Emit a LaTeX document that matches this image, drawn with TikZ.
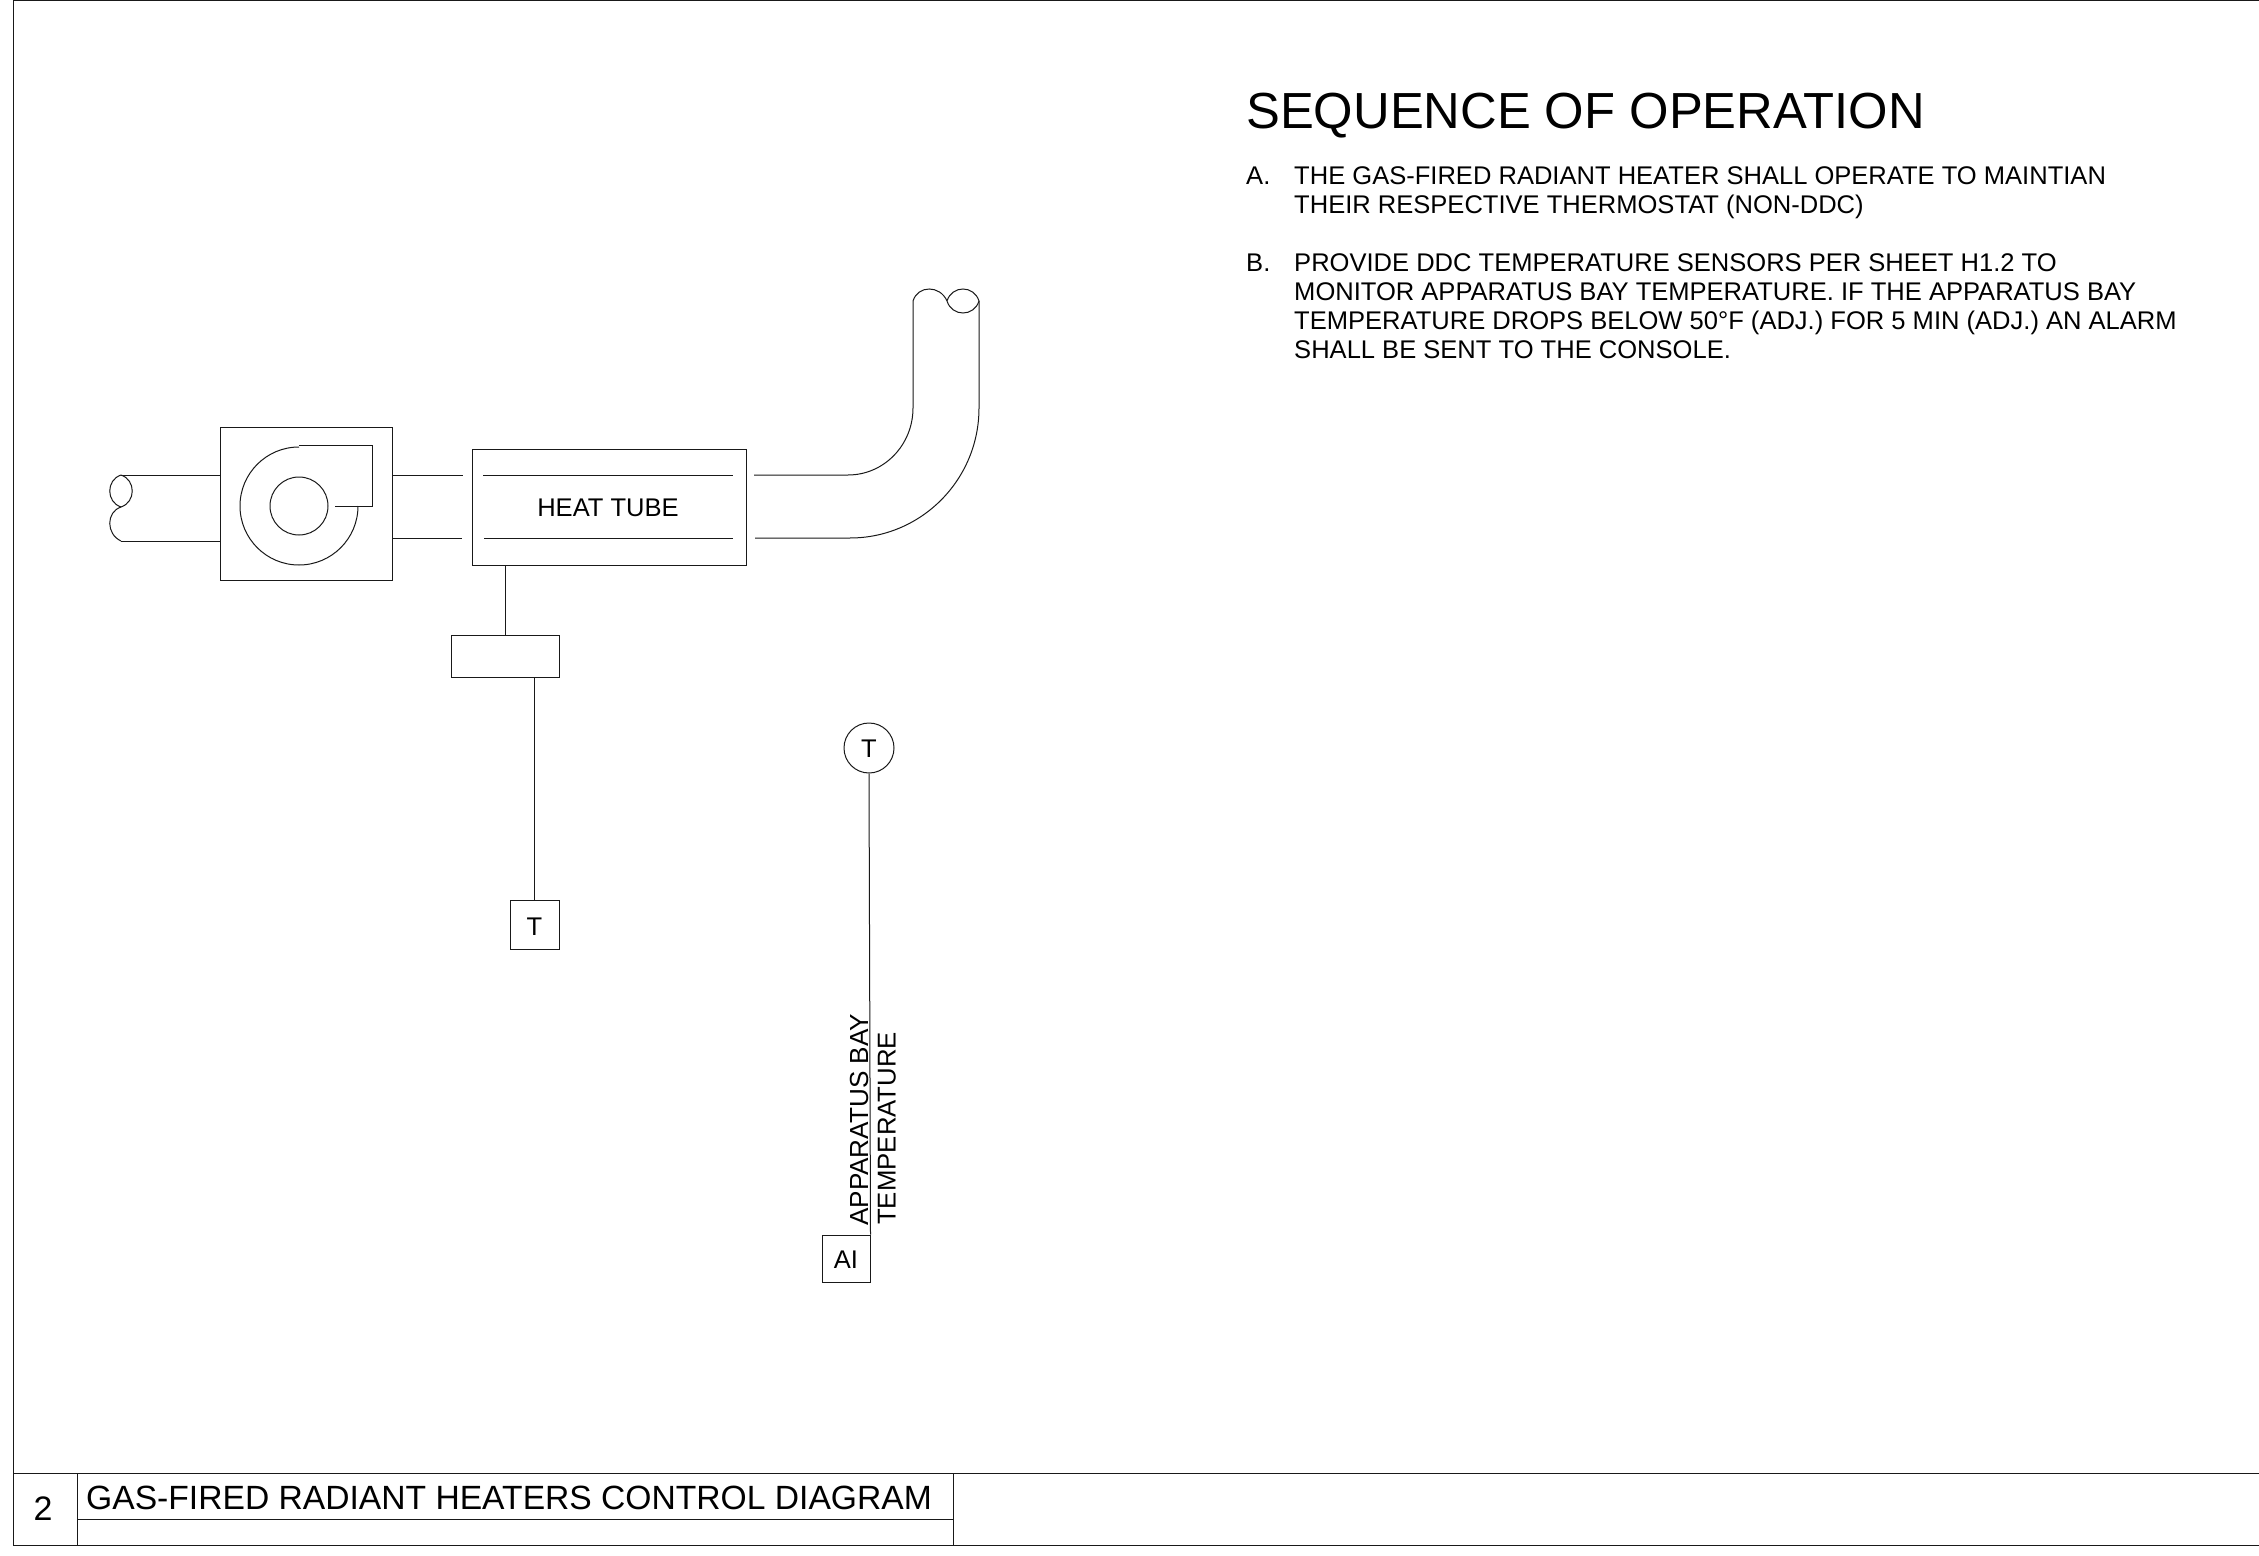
\documentclass[tikz,border=0pt]{standalone}
\usepackage{fontspec}
\setmainfont{Liberation Sans}
\tikzset{
  wire/.style={line width=0.3mm,black!90},
  unitbox/.style={draw,line width=0.3mm,black!90,text=black,inner sep=0pt},
  label/.style={font=\fontsize{21.8}{24.7}\selectfont,inner sep=0pt},
  note/.style={label,anchor=north west,align=left},
}
\begin{document}
\begin{tikzpicture}[x=0.3mm,y=-0.3mm]
\useasboundingbox(0,0)rectangle(2259,1556);
% sheet frame
\draw[wire](2259,1)--(13.5,1)--(13.5,1545)--(2259,1545);
\draw[wire](13.5,1473)--(2259,1473);
\draw[wire](77,1519)--(953,1519);
\draw[wire](77,1473)--(77,1545);
\draw[wire](953,1473)--(953,1545);
\node[label,font=\fontsize{29}{32}\selectfont](sheetno)at(43,1509){2};
\node[label,font=\fontsize{28.7}{32}\selectfont,anchor=west](sheettitle)at(86,1498){GAS-FIRED RADIANT HEATERS CONTROL DIAGRAM};
% notes
\node[label,font=\fontsize{43.3}{48}\selectfont,anchor=west](seqhead)at(1246,116){SEQUENCE OF OPERATION};
\node[note](notea)at(1246,166.5){A.};
\node[note,anchor=north west](notetxta)at(1294,166.5){THE GAS-FIRED RADIANT HEATER SHALL OPERATE TO MAINTIAN\\THEIR RESPECTIVE THERMOSTAT (NON-DDC)};
\node[note](noteb)at(1246,253.5){B.};
\node[note](notetxtb)at(1294,253.5){PROVIDE DDC TEMPERATURE SENSORS PER SHEET H1.2 TO\\MONITOR APPARATUS BAY TEMPERATURE. IF THE APPARATUS BAY\\TEMPERATURE DROPS BELOW 50°F (ADJ.) FOR 5 MIN (ADJ.) AN ALARM\\SHALL BE SENT TO THE CONSOLE.};
% fan and heat tube
\node[unitbox,minimum width=51.6mm,minimum height=45.9mm](fan)at(306,503.5){};
\node[unitbox,circle,minimum size=17.4mm](fanwheel)at(299,506){};
\node[unitbox,minimum width=82.2mm,minimum height=34.8mm](heattube)at(609,507){};
\node[label,anchor=center](heatlabel)at(608,508){HEAT TUBE};
\draw[wire](299,447)..controls(266.4,447)and(240,473.4)..(240,506)..controls(240,538.6)and(266.4,565)..(299,565)..controls(331.6,565)and(358,538.6)..(358,506);
\draw[wire](299,445)--(372,445)--(372,506.5)--(335,506.5);
% duct, left end
\coordinate(inlettop)at(121,475);
\coordinate(inletbot)at(121,541);
\coordinate(inletmid)at(121,507);
\draw[wire](inlettop)--(inlettop-|fan.west);
\draw[wire](inletbot)--(inletbot-|fan.west);
\draw[wire](inlettop)..controls(106,480)and(106,502)..(inletmid)..controls(136,502)and(136,480)..(inlettop);
\draw[wire](inletmid)..controls(106,512)and(106,534)..(inletbot);
% duct, between the boxes
\coordinate(stubtop)at(463,475);
\coordinate(stubbot)at(462,538);
\draw[wire](stubtop-|fan.east)--(stubtop);
\draw[wire](stubbot-|fan.east)--(stubbot);
\draw[wire](483,475)--(733,475);
\draw[wire](484,538)--(733,538);
% duct, elbow
\coordinate(elbowin)at(913,301);
\coordinate(elbowmid)at(947,301);
\coordinate(elbowout)at(979,301);
\draw[wire](754,475)--(848,475)..controls(884,475)and(913,445)..(913,408)--(elbowin);
\draw[wire](755,538)--(850,538)..controls(921,538)and(979,480)..(979,408)--(elbowout);
\draw[wire](elbowin)..controls(918,285)and(940,285)..(elbowmid)..controls(952,317)and(974,317)..(elbowout)..controls(974,285)and(952,285)..(elbowmid);
% thermostat
\node[unitbox,minimum width=32.4mm,minimum height=12.6mm](ctrlbox)at(505,656){};
\node[unitbox,minimum width=14.7mm,minimum height=14.7mm,label](tstat)at(534.5,924.5){\raisebox{-2pt}[\height][0pt]{T}};
\draw[wire](505,565)--(ctrlbox.north-|505,0);
\draw[wire](tstat|-ctrlbox.south)--(tstat.north);
% sensor
\node[unitbox,circle,minimum size=15mm,label](tsensor)at(869,748){\raisebox{-1pt}[\height][0pt]{T}};
\node[unitbox,minimum width=14.4mm,minimum height=14.1mm,label](aibox)at(846,1258.5){\raisebox{-1pt}[\height][0pt]{AI}};
\draw[wire](tsensor.south)--(aibox.north east);
\node[label,font=\fontsize{22.3}{25}\selectfont,rotate=90,anchor=west](baylabel)at(859,1226){APPARATUS BAY};
\node[label,font=\fontsize{22}{25}\selectfont,rotate=90,anchor=west](templabel)at(887,1225){TEMPERATURE};
\end{tikzpicture}
\end{document}
